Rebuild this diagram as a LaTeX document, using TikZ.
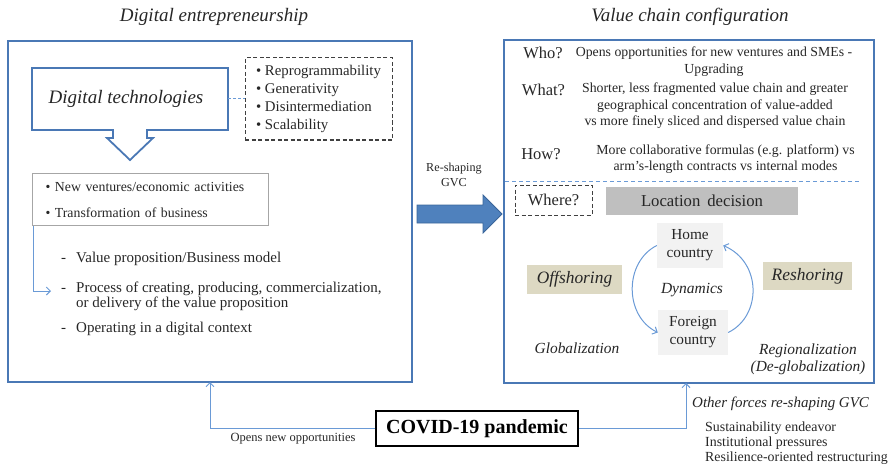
\documentclass[tikz,border=0pt]{standalone}
\usepackage{fontspec}
\setmainfont{Liberation Serif}
\usetikzlibrary{arrows.meta,calc}
\definecolor{panelblue}{HTML}{4A78B5}
\definecolor{lineblue}{HTML}{6A9AD6}
\definecolor{arrowfill}{HTML}{4F81BD}
\definecolor{arrowedge}{HTML}{3A659A}
\definecolor{tan}{HTML}{DDD9C3}
\definecolor{lightbox}{HTML}{F2F2F2}
\definecolor{locgray}{HTML}{BFBFBF}
\definecolor{txt}{HTML}{262626}
\newcommand{\fsz}[2]{\fontsize{#1}{#2}\selectfont}
\begin{document}
\begin{tikzpicture}[x=1pt,y=-1pt,
  panel/.style={draw=panelblue, line width=1.8pt, inner sep=0pt},
  dashbox/.style={draw=black!75, line width=1pt, dash pattern=on 4pt off 2.5pt},
  link/.style={draw=lineblue, line width=1pt},
  tipv/.style={-{Straight Barb[length=4pt,width=8pt,line width=1pt]}},
  qword/.style={font=\fsz{16.5}{18}},
  every node/.style={text=txt}
]
\useasboundingbox (0,0) rectangle (891,468);

% titles
\node[font=\fsz{19}{21}\itshape] (t1) at (214,17) {Digital entrepreneurship};
\node[font=\fsz{19}{21}\itshape] (t2) at (690,17) {Value chain configuration};

% panels
\node[panel, minimum width=404pt, minimum height=341pt, anchor=north west] (left) at (7,40) {};
\node[panel, minimum width=370pt, minimum height=343pt, anchor=north west] (right) at (503,39) {};

% digital technologies callout
\draw[draw=panelblue, line width=1.8pt, fill=white, line join=miter]
  (32,68) -- (228,68) -- (228,130) -- (147,130) -- (147,138) -- (153,138) -- (130,160)
  -- (107,138) -- (113,138) -- (113,130) -- (32,130) -- cycle;
\node[minimum width=196pt, minimum height=62pt, inner sep=0pt, font=\fsz{19}{21}\itshape] (dtech) at (126,99) {Digital technologies};

% properties
\node[dashbox, minimum width=147pt, minimum height=82pt, align=left, font=\fsz{14.8}{18}] (props) at (318.5,99)
  {• Reprogrammability\\• Generativity\\• Disintermediation\\• Scalability};
\draw[link, dashed, dash pattern=on 3pt off 2pt] (228,99) -- (props.west);

% new ventures box
\node[draw=black!35, line width=1pt, text width=210pt, inner xsep=13pt, minimum height=52pt, anchor=north west, align=left, font=\fsz{13.8}{26}] (nv) at (32,173)
  {• New ventures/economic activities\\• Transformation of business};

% list
\node[anchor=base west, inner sep=0pt, font=\fsz{15}{15}] (list) at (61,262)
  {\begin{tabular}[t]{@{}l@{\hspace{10pt}}l@{}}
   - & Value proposition/Business model\\[15pt]
   - & Process of creating, producing, commercialization,\\
     & or delivery of the value proposition\\[10pt]
   - & Operating in a digital context
   \end{tabular}};
\coordinate (listin) at (51,291);
\draw[link, tipv] ($(nv.south west)+(1,0)$) |- (listin);

% re-shaping arrow
\draw[fill=arrowfill, draw=arrowedge, line width=0.8pt, line join=miter]
  (417,205) -- (483,205) -- (483,195) -- (502,214) -- (483,233) -- (483,223) -- (417,223) -- cycle;
\node[align=center, font=\fsz{12.2}{15}] (reshape) at (454,175) {Re-shaping\\GVC};

% right panel text
\node[qword] (who) at (543,53) {Who?};
\node[align=center, font=\fsz{13.8}{17}] (whot) at (714,62) {Opens opportunities for new ventures and SMEs -\\Upgrading};
\node[qword] (what) at (543.5,90) {What?};
\node[align=center, font=\fsz{13.8}{16.5}] (whatt) at (715,106) {Shorter, less fragmented value chain and greater\\geographical concentration of value-added\\vs more finely sliced and dispersed value chain};
\node[qword] (how) at (541,154) {How?};
\node[align=center, font=\fsz{13.8}{16.5}] (howt) at (725.5,159) {More collaborative formulas (e.g. platform) vs\\arm's-length contracts vs internal modes};
\draw[link, dashed, dash pattern=on 4pt off 3pt] (505,181) -- (860,181);

\node[dashbox, minimum width=77pt, minimum height=30pt, qword] (where) at (553.5,200) {Where?};
\node[fill=locgray, minimum width=192pt, minimum height=28pt, font=\fsz{16.7}{18}] (loc) at (702,201) {Location\, decision};

\node[fill=lightbox, minimum width=66pt, minimum height=45pt, align=center, inner sep=0pt, font=\fsz{15.3}{18}] (home) at (690,245.5) {Home\\country};
\node[fill=lightbox, minimum width=70pt, minimum height=45pt, align=center, inner sep=0pt, font=\fsz{15.3}{18}] (foreign) at (693,332.5) {Foreign\\country};
\node[fill=tan, minimum width=95pt, minimum height=29pt, font=\fsz{17.4}{19}\itshape] (off) at (574.5,279.5) {Offshoring};
\node[fill=tan, minimum width=89pt, minimum height=28pt, font=\fsz{17.4}{19}\itshape] (resh) at (807.5,276) {Reshoring};
\node[font=\fsz{15.5}{17}\itshape] (dyn) at (692,290) {Dynamics};
\draw[link, tipv] (home.west) .. controls (624,262) and (624,316) .. (foreign.west);
\draw[link, tipv] (foreign.east) .. controls (762,316) and (762,262) .. (home.east);
\node[font=\fsz{15.4}{17}\itshape] (glob) at (577,348) {Globalization};
\node[align=center, font=\fsz{15.4}{17}\itshape] (reg) at (808,359) {Regionalization\\(De-globalization)};

% bottom
\node[draw=black, line width=1.5pt, minimum width=202pt, minimum height=35pt, font=\fsz{20}{22}\bfseries, text=black] (covid) at (477,428.5) {COVID-19 pandemic};
\coordinate (lup) at (210,382);
\coordinate (rup) at (686,383);
\draw[link, tipv] (covid.west) -| (lup);
\draw[link, tipv] (covid.east) -| (rup);
\node[font=\fsz{12.5}{14}] (opens) at (293,439) {Opens new opportunities};
\node[anchor=west, inner xsep=0pt, font=\fsz{15}{17}\itshape] (other) at (692,404) {Other forces re-shaping GVC};
\node[anchor=north west, align=left, font=\fsz{13.9}{14.8}, inner sep=0pt] (forces) at (705,422)
  {Sustainability endeavor\\Institutional pressures\\Resilience-oriented restructuring};
\end{tikzpicture}
\end{document}
